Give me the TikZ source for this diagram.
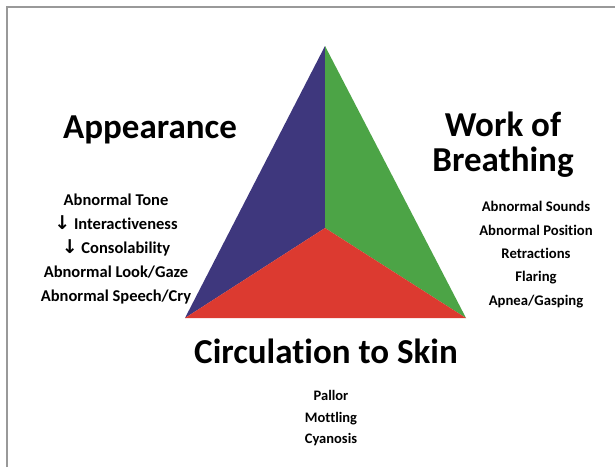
\documentclass[tikz,border=0pt]{standalone}
\usepackage{fontspec}
\setmainfont[Ligatures=NoCommon]{Carlito}
\newfontfamily\arrowfont{DejaVu Sans}

\definecolor{apcolor}{RGB}{62,55,125}
\definecolor{wobcolor}{RGB}{76,164,70}
\definecolor{circcolor}{RGB}{220,58,48}

\tikzset{
        sidetitle/.style={font=\fontsize{35}{35}\selectfont\bfseries, align=center, inner sep=0pt},
        signlist/.style={font=\fontsize{14.5}{24}\selectfont\bfseries, align=center, inner sep=0pt}
}

\newcommand{\dn}{{\arrowfont\bfseries\fontsize{19}{24}\selectfont ↓}}

\begin{document}
\begin{tikzpicture}[x=1pt,y=-1pt]

        \useasboundingbox[fill=white] (0,0) rectangle (615,467);
        \draw[gray!80, line width=1.6pt] (7,467) -- (7,7) -- (615,7);

        \coordinate (top) at (325,46);
        \coordinate (left) at (185,318);
        \coordinate (right) at (466,318);
        \coordinate (mid) at (325,228);

        \fill[apcolor] (top) -- (mid) -- (left) -- cycle;
        \fill[wobcolor] (top) -- (right) -- (mid) -- cycle;
        \fill[circcolor] (left) -- (mid) -- (right) -- cycle;

        \node[sidetitle, anchor=base] (ap) at (150,138) {Appearance};
        \node[sidetitle, anchor=north] (wob) at (503,111.5) {Work of\\Breathing};
        \node[sidetitle, anchor=base] (circ) at (326,363) {Circulation to Skin};

        \node[signlist, font=\fontsize{16.5}{24}\selectfont\bfseries] (aplist) at (116,249) {Abnormal Tone\\\dn\ Interactiveness\\\dn\ Consolability\\Abnormal Look/Gaze\\Abnormal Speech/Cry};
        \node[signlist, font=\fontsize{14.7}{23.3}\selectfont\bfseries] (woblist) at (536,254.5) {Abnormal Sounds\\Abnormal Position\\Retractions\\Flaring\\Apnea/Gasping};
        \node[signlist, font=\fontsize{14.5}{21.5}\selectfont\bfseries] (circlist) at (331,418.5) {Pallor\\Mottling\\Cyanosis};

\end{tikzpicture}
\end{document}
